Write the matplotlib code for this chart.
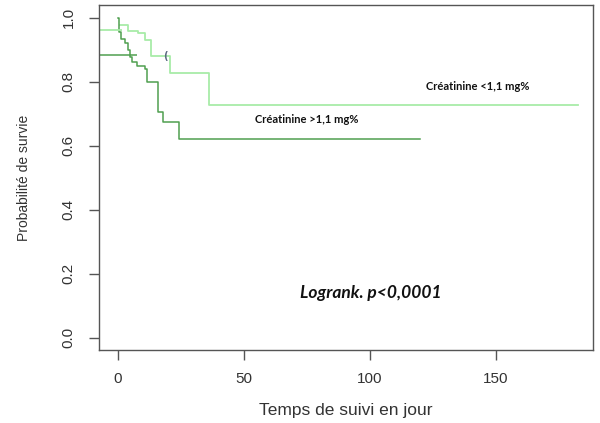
import matplotlib
matplotlib.use("Agg")
import matplotlib.pyplot as plt

# Light green curve: Créatinine <1,1 mg%
t_low = [0.8, 4.1, 8.1, 10.7, 13.2, 20.6, 36.2, 182.5]
s_low = [0.978, 0.960, 0.954, 0.931, 0.880, 0.827, 0.727, 0.727]

# Dark green curve: Créatinine >1,1 mg%
t_high = [0.0, 0.3, 1.3, 2.7, 4.0, 5.0, 5.7, 7.5, 10.7, 11.4, 15.9, 18.0, 24.3, 120.1]
s_high = [1.0, 0.955, 0.935, 0.920, 0.900, 0.879, 0.863, 0.850, 0.840, 0.800, 0.707, 0.676, 0.621, 0.621]

# Stray horizontal segments near start
stray_low = (1.6, 0.962)
stray_high = (7.5, 0.884)
censor_low = (19.0, 0.880)

xticks = [0, 50, 100, 150]
yticks = [0.0, 0.2, 0.4, 0.6, 0.8, 1.0]

c_light = "#a8eca8"
c_dark = "#4f9f4f"
gray = "#555555"

fig = plt.figure(figsize=(6.0, 4.23), dpi=100)
ax = fig.add_axes([0.165, 0.173, 0.823, 0.815])

xmin, xmax = -7.5, 188.5
ax.set_xlim(xmin, xmax)
ax.set_ylim(-0.0375, 1.04)

ax.step(t_low, s_low, where="post", color=c_light, lw=1.3)
ax.step(t_high, s_high, where="post", color=c_dark, lw=1.1)
ax.hlines(stray_low[1], xmin, stray_low[0], color=c_light, lw=1.3)
ax.hlines(stray_high[1], xmin, stray_high[0], color=c_dark, lw=1.1)
ax.text(censor_low[0], censor_low[1], "(", color="#5a6a80", fontsize=7,
        ha="center", va="center", fontweight="bold")

ax.set_xticks(xticks)
ax.set_xticklabels([str(v) for v in xticks])
ax.set_yticks(yticks)
ax.set_yticklabels([f"{v:.1f}" for v in yticks], rotation=90, va="center")

for sp in ax.spines.values():
    sp.set_color(gray)
    sp.set_linewidth(1.0)
ax.tick_params(axis="both", colors=gray, labelcolor="#333333", length=7,
               width=1.0, labelsize=11, pad=10)
ax.tick_params(axis="x", pad=9)

ax.set_xlabel("Temps de suivi en jour", fontsize=12.5, color="#333333",
              family="Liberation Sans", labelpad=12)
ax.set_ylabel("Probabilité de survie", fontsize=10, color="#333333",
              family="Liberation Sans", labelpad=22)
for lab in ax.get_xticklabels() + ax.get_yticklabels():
    lab.set_family("Liberation Sans")

ax.text(143, 0.785, "Créatinine <1,1 mg%", fontsize=8, fontweight="bold",
        family="Lato", ha="center", va="center", color="#111111")
ax.text(75, 0.682, "Créatinine >1,1 mg%", fontsize=8, fontweight="bold",
        family="Lato", ha="center", va="center", color="#111111")
ax.text(100.5, 0.14, "Logrank. p<0,0001", fontsize=12.5, fontweight="bold",
        style="italic", family="Lato", ha="center", va="center", color="#111111")

fig.savefig("out.png", dpi=100)
